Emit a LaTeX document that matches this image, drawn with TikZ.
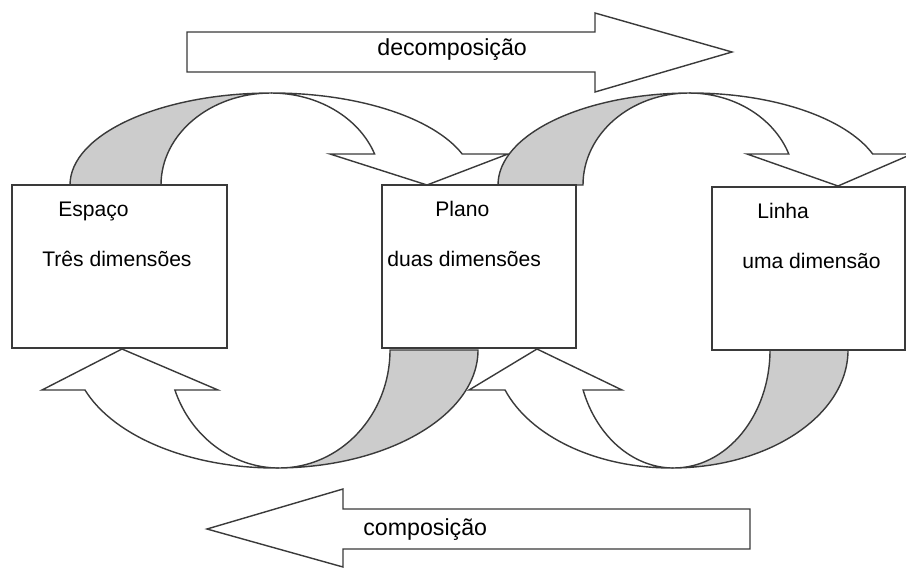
\documentclass[tikz,border=0pt]{standalone}
\usepackage{fontspec}
\setmainfont{Liberation Sans}
\definecolor{edge}{HTML}{3A3A3A}
\definecolor{backside}{HTML}{CCCCCC}
\tikzset{
  box/.style={draw=edge, fill=white, line width=0.8pt, minimum height=3.26cm, inner sep=0pt},
  band/.style={draw=edge, fill=white, line width=0.8pt, line join=miter},
  backband/.style={band, fill=backside},
  lbl/.style={anchor=base west, inner sep=0pt, font=\fontsize{12}{14}\selectfont},
  biglbl/.style={lbl, font=\fontsize{13.2}{15}\selectfont}
}

\begin{document}
\begin{tikzpicture}[x=0.02cm,y=-0.02cm]
\useasboundingbox (0,0) rectangle (906,568);

% straight arrows
\draw[band] (187,32) -- (595,32) -- (595,13) -- (732,52) -- (595,92) -- (595,72) -- (187,72) -- cycle;
\node[biglbl] (decomp) at (377,55) {decomposição};
\draw[band] (750,509) -- (343,509) -- (343,489) -- (207,529) -- (343,567) -- (343,549) -- (750,549) -- cycle;
\node[biglbl] (comp) at (363,535) {composição};

% curved arrow espaco -> plano
\draw[backband] (70,185) arc[start angle=180, end angle=270, x radius=202, y radius=92]
  -- (271,93) arc[start angle=270, end angle=180, x radius=110, y radius=92] -- cycle;
\draw[band] (272,93) arc[start angle=270, end angle=340.3, x radius=202, y radius=92]
  -- (508,154) -- (427,185) -- (330,154) -- (374.6,154)
  arc[start angle=340.3, end angle=270, x radius=110, y radius=92] -- cycle;

% curved arrow plano -> linha
\draw[backband] (498,185) arc[start angle=180, end angle=270, x radius=193, y radius=92]
  -- (689,93) arc[start angle=270, end angle=180, x radius=106, y radius=92] -- cycle;
\draw[band] (691,93) arc[start angle=270, end angle=340.3, x radius=193, y radius=92]
  -- (912,154) -- (838,186) -- (747,154) -- (788.8,154)
  arc[start angle=340.3, end angle=270, x radius=106, y radius=92] -- cycle;

% curved arrow plano -> espaco
\draw[backband] (478,350) arc[start angle=0, end angle=90, x radius=202.5, y radius=118]
  -- (279.2,468) arc[start angle=90, end angle=0, x radius=110.8, y radius=118] -- cycle;
\draw[band] (275.5,468) arc[start angle=90, end angle=160.2, x radius=202.5, y radius=118]
  -- (42,390) -- (122,349) -- (218,390) -- (174.9,390)
  arc[start angle=160.2, end angle=90, x radius=110.8, y radius=118] -- cycle;

% curved arrow linha -> plano
\draw[backband] (848,350) arc[start angle=0, end angle=90, x radius=176.7, y radius=118]
  -- (673.7,468) arc[start angle=90, end angle=0, x radius=96.3, y radius=118] -- cycle;
\draw[band] (671.3,468) arc[start angle=90, end angle=160.2, x radius=176.7, y radius=118]
  -- (469,390) -- (537,349) -- (622,390) -- (583.1,390)
  arc[start angle=160.2, end angle=90, x radius=96.3, y radius=118] -- cycle;

% boxes
\foreach \name/\cx/\cy/\w in {espaco/119.5/266.5/4.3cm, plano/479/266.5/3.88cm, linha/808.5/268.5/3.86cm}
\node[box, minimum width=\w] (\name) at (\cx,\cy) {};

% box texts
\node[lbl] (espacoA) at (58,216) {Espaço};
\node[lbl] (espacoB) at (42,266) {Três dimensões};
\node[lbl] (planoA) at (435,216) {Plano};
\node[lbl] (planoB) at (387,266) {duas dimensões};
\node[lbl] (linhaA) at (757,218) {Linha};
\node[lbl] (linhaB) at (742,268) {uma dimensão};
\end{tikzpicture}
\end{document}
